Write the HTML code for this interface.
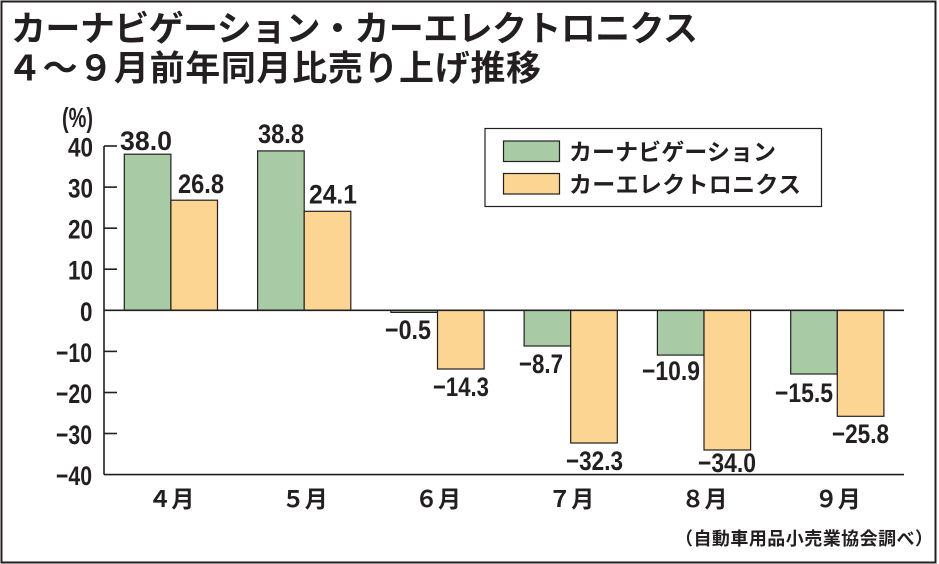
<!DOCTYPE html>
<html lang="ja">
<head>
<meta charset="utf-8">
<style>
  html, body { margin: 0; padding: 0; background: #fff; }
  svg { display: block; }
  .jp { font-family: "Liberation Sans", "Noto Sans CJK JP", sans-serif; font-weight: bold; fill: #231f20; }
  .num { font-family: "Liberation Sans", sans-serif; font-weight: bold; fill: #231f20; }
</style>
</head>
<body>
<svg width="939" height="564" viewBox="0 0 939 564" xmlns="http://www.w3.org/2000/svg">
  <rect x="0" y="0" width="939" height="564" fill="#fff"/>
  <rect x="1.5" y="1.5" width="934" height="561" fill="none" stroke="#231f20" stroke-width="2"/>

  <!-- Title -->
  <text class="jp" x="11" y="41" font-size="35" textLength="687">カーナビゲーション・カーエレクトロニクス</text>
  <text class="jp" x="7" y="80.5" font-size="35" textLength="534">４～９月前年同月比売り上げ推移</text>

  <!-- (%) -->
  <text class="num" x="62" y="127" font-size="28" textLength="31" lengthAdjust="spacingAndGlyphs">(%)</text>

  <!-- Y tick labels -->
  <g class="num" font-size="27">
    <text x="68" y="156.5" textLength="25" lengthAdjust="spacingAndGlyphs">40</text>
    <text x="68" y="197.6" textLength="25" lengthAdjust="spacingAndGlyphs">30</text>
    <text x="68" y="238.7" textLength="25" lengthAdjust="spacingAndGlyphs">20</text>
    <text x="68" y="279.7" textLength="25" lengthAdjust="spacingAndGlyphs">10</text>
    <text x="80" y="320.8" textLength="12.5" lengthAdjust="spacingAndGlyphs">0</text>
    <text x="56" y="361.9" textLength="36" lengthAdjust="spacingAndGlyphs">−10</text>
    <text x="56" y="403.0" textLength="36" lengthAdjust="spacingAndGlyphs">−20</text>
    <text x="56" y="444.0" textLength="36" lengthAdjust="spacingAndGlyphs">−30</text>
    <text x="56" y="485.1" textLength="36" lengthAdjust="spacingAndGlyphs">−40</text>
  </g>

  <!-- Bars -->
  <g stroke="#231f20" stroke-width="1.2">
    <rect x="124.3" y="154.2" width="46.6" height="156.1" fill="#a8cba6"/>
    <rect x="170.9" y="200.2" width="46.6" height="110.1" fill="#fdd592"/>
    <rect x="257.6" y="150.9" width="46.6" height="159.4" fill="#a8cba6"/>
    <rect x="304.2" y="211.3" width="46.6" height="99.0" fill="#fdd592"/>
    <rect x="390.9" y="310.3" width="46.6" height="2.1" fill="#a8cba6"/>
    <rect x="437.5" y="310.3" width="46.6" height="58.7" fill="#fdd592"/>
    <rect x="524.1" y="310.3" width="46.6" height="35.7" fill="#a8cba6"/>
    <rect x="570.7" y="310.3" width="46.6" height="132.7" fill="#fdd592"/>
    <rect x="657.4" y="310.3" width="46.6" height="44.8" fill="#a8cba6"/>
    <rect x="704.0" y="310.3" width="46.6" height="139.7" fill="#fdd592"/>
    <rect x="790.7" y="310.3" width="46.6" height="63.7" fill="#a8cba6"/>
    <rect x="837.3" y="310.3" width="46.6" height="106.0" fill="#fdd592"/>
  </g>

  <!-- Axes -->
  <g stroke="#231f20" stroke-width="1.6" fill="none">
    <line x1="104" y1="146" x2="104" y2="474.6"/>
    <line x1="104" y1="146" x2="117" y2="146"/>
    <line x1="104" y1="187.1" x2="117" y2="187.1"/>
    <line x1="104" y1="228.2" x2="117" y2="228.2"/>
    <line x1="104" y1="269.2" x2="117" y2="269.2"/>
    <line x1="104" y1="351.4" x2="117" y2="351.4"/>
    <line x1="104" y1="392.5" x2="117" y2="392.5"/>
    <line x1="104" y1="433.5" x2="117" y2="433.5"/>
    <line x1="104" y1="310.3" x2="904" y2="310.3"/>
    <line x1="104" y1="474.6" x2="904" y2="474.6"/>
  </g>

  <!-- Value labels -->
  <g class="num" font-size="27">
    <text x="120" y="150" textLength="52" lengthAdjust="spacingAndGlyphs">38.0</text>
    <text x="178" y="193" textLength="46" lengthAdjust="spacingAndGlyphs">26.8</text>
    <text x="258" y="143" textLength="46" lengthAdjust="spacingAndGlyphs">38.8</text>
    <text x="309" y="203.5" textLength="48" lengthAdjust="spacingAndGlyphs">24.1</text>
    <text x="385" y="339" textLength="46" lengthAdjust="spacingAndGlyphs">−0.5</text>
    <text x="433" y="396" textLength="56" lengthAdjust="spacingAndGlyphs">−14.3</text>
    <text x="519" y="373" textLength="44" lengthAdjust="spacingAndGlyphs">−8.7</text>
    <text x="566" y="470" textLength="57" lengthAdjust="spacingAndGlyphs">−32.3</text>
    <text x="642" y="380" textLength="58" lengthAdjust="spacingAndGlyphs">−10.9</text>
    <text x="698" y="472" textLength="58" lengthAdjust="spacingAndGlyphs">−34.0</text>
    <text x="775" y="402" textLength="58" lengthAdjust="spacingAndGlyphs">−15.5</text>
    <text x="832" y="443" textLength="57" lengthAdjust="spacingAndGlyphs">−25.8</text>
  </g>

  <!-- Month labels -->
  <g class="jp" font-size="23" text-anchor="middle">
    <text x="171.4" y="507">４月</text>
    <text x="304.7" y="507">５月</text>
    <text x="438.0" y="507">６月</text>
    <text x="571.2" y="507">７月</text>
    <text x="704.5" y="507">８月</text>
    <text x="837.8" y="507">９月</text>
  </g>

  <!-- Legend -->
  <rect x="485" y="128.5" width="336.5" height="78" fill="#fff" stroke="#231f20" stroke-width="1.2"/>
  <rect x="503.5" y="141" width="56" height="20.5" fill="#a8cba6" stroke="#231f20" stroke-width="1.2"/>
  <rect x="503.5" y="173.5" width="56" height="20.5" fill="#fdd592" stroke="#231f20" stroke-width="1.2"/>
  <text class="jp" x="569" y="160" font-size="23" textLength="207">カーナビゲーション</text>
  <text class="jp" x="569" y="192.5" font-size="23" textLength="232">カーエレクトロニクス</text>

  <!-- Source -->
  <text class="jp" x="675" y="545" font-size="18" textLength="258">（自動車用品小売業協会調べ）</text>
</svg>
</body>
</html>
